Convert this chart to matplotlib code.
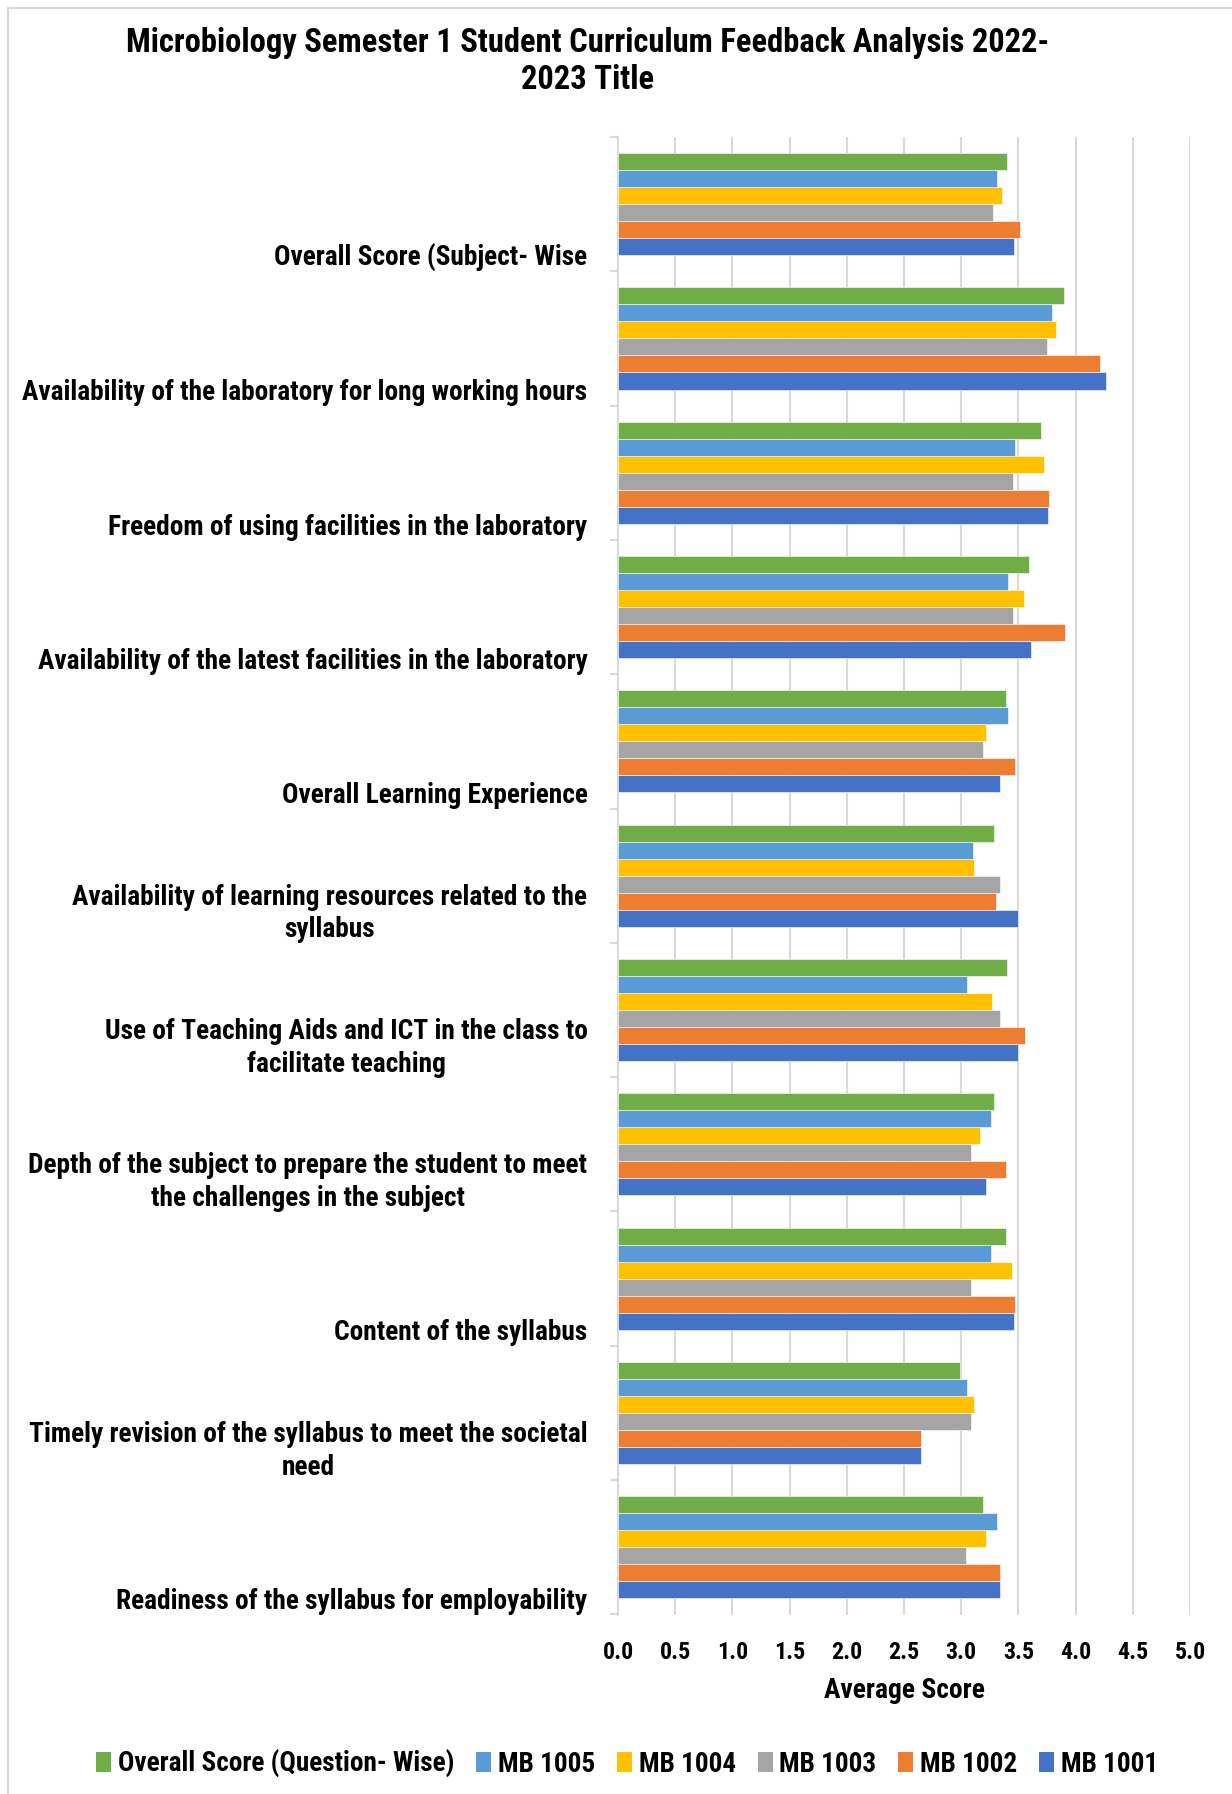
import matplotlib
matplotlib.use("Agg")
import matplotlib.pyplot as plt
import numpy as np
from matplotlib.patches import Patch
from matplotlib.lines import Line2D
from matplotlib import font_manager as fm
import os

categories = [
    "Overall Score (Subject- Wise",
    "Availability of the laboratory for long working hours",
    "Freedom of using facilities in the laboratory",
    "Availability of the latest facilities in the laboratory",
    "Overall Learning Experience",
    "Availability of learning resources related to the\nsyllabus",
    "Use of Teaching Aids and ICT in the class to\nfacilitate teaching",
    "Depth of the subject to prepare the student to meet\nthe challenges in the subject",
    "Content of the syllabus",
    "Timely revision of the syllabus to meet the societal\nneed",
    "Readiness of the syllabus for employability",
]

overall_q = [3.40, 3.90, 3.70, 3.59, 3.39, 3.29, 3.40, 3.29, 3.39, 2.99, 3.19]
mb1005 = [3.31, 3.79, 3.47, 3.41, 3.41, 3.10, 3.05, 3.26, 3.26, 3.05, 3.31]
mb1004 = [3.36, 3.83, 3.72, 3.55, 3.22, 3.11, 3.27, 3.16, 3.44, 3.11, 3.22]
mb1003 = [3.28, 3.75, 3.45, 3.45, 3.19, 3.34, 3.34, 3.09, 3.09, 3.09, 3.04]
mb1002 = [3.51, 4.21, 3.77, 3.91, 3.47, 3.30, 3.56, 3.39, 3.47, 2.65, 3.34]
mb1001 = [3.46, 4.27, 3.76, 3.61, 3.34, 3.50, 3.50, 3.22, 3.46, 2.65, 3.34]

series_names = ["MB 1001", "MB 1002", "MB 1003", "MB 1004", "MB 1005", "Overall Score (Question- Wise)"]
series_vals = [mb1001, mb1002, mb1003, mb1004, mb1005, overall_q]
series_colors = ["#4472C4", "#ED7D31", "#A5A5A5", "#FFC000", "#5B9BD5", "#70AD47"]

xticks = [0.0, 0.5, 1.0, 1.5, 2.0, 2.5, 3.0, 3.5, 4.0, 4.5, 5.0]

# ---- pick a condensed bold sans font if one is installed ----
prefs = ['liberationsansnarrow-bold.', 'arialnarrowbold', 'arial narrow bold', 'arialnb',
         'robotocondensed-bold.', 'notosans-condensedbold.', 'dejavusanscondensed-bold.',
         'opensans-condensedbold.', 'opensans_condensed-bold.', 'opensanscondensed-bold.']
files = [f.fname for f in fm.fontManager.ttflist]
chosen = None
for p in prefs:
    for fn in files:
        if p in os.path.basename(fn).lower():
            chosen = fn
            break
    if chosen:
        break
if chosen is None:
    for fn in files:
        b = os.path.basename(fn).lower()
        if ('condensed' in b or 'narrow' in b) and 'bold' in b and 'italic' not in b \
                and 'semi' not in b and 'extra' not in b and 'mono' not in b and 'serif' not in b:
            chosen = fn
            break

if chosen:
    base_fp = fm.FontProperties(fname=chosen)
else:
    base_fp = fm.FontProperties(family=['Liberation Sans', 'DejaVu Sans'], weight='bold')

W, H = 1232, 1794
fig = plt.figure(figsize=(W / 100, H / 100), dpi=100)
renderer = fig.canvas.get_renderer()


def fit(text, target_px, ref_size=20.0):
    fp = base_fp.copy()
    fp.set_size(ref_size)
    w, _, _ = renderer.get_text_width_height_descent(text, fp, ismath=False)
    return ref_size * target_px / w


def prop(size):
    fp = base_fp.copy()
    fp.set_size(size)
    return fp


lab_size = fit("Availability of the laboratory for long working hours", 566)
title_size = fit("Microbiology Semester 1 Student Curriculum Feedback Analysis 2022-", 924)
tick_size = fit("0.0", 31)
xl_size = fit("Average Score", 160)
leg_size = fit("Overall Score (Question- Wise)", 336)

ax = fig.add_axes([618 / W, 1 - 1615 / H, (1190 - 618) / W, (1615 - 137) / H])

n = len(categories)
ypos = np.arange(n)[::-1]  # first category at top
h = 0.1267
for j, (vals, col, name) in enumerate(zip(series_vals, series_colors, series_names)):
    ax.barh(ypos + (j - 2.5) * h, vals, height=h, color=col, label=name,
            edgecolor='white', linewidth=0.4, zorder=3)

ax.set_xlim(0, 5)
ax.set_ylim(-0.5, n - 0.5)
ax.set_xticks(xticks)
ax.set_xticklabels([f"{t:.1f}" for t in xticks], fontproperties=prop(tick_size))
ax.tick_params(axis='x', length=0, pad=19)
ax.grid(axis='x', color='#d9d9d9', linewidth=1.5, zorder=0)

ax.set_yticks(ypos - 0.505)
ax.set_yticklabels(categories, fontproperties=prop(lab_size), multialignment='center', linespacing=1.28)
for lbl in ax.get_yticklabels():
    lbl.set_va('bottom')
ax.tick_params(axis='y', length=0, pad=22)
ax.set_yticks(np.arange(-0.5, n, 1.0), minor=True)
ax.tick_params(axis='y', which='minor', length=6, width=1.5, color='#d9d9d9', direction='out')

for s in ['top', 'right', 'bottom']:
    ax.spines[s].set_visible(False)
ax.spines['left'].set_color('#d9d9d9')
ax.spines['left'].set_linewidth(1.5)

ax.set_xlabel("Average Score", fontproperties=prop(xl_size), labelpad=9)

fig.text(588 / W, 1 - 61.5 / H,
         "Microbiology Semester 1 Student Curriculum Feedback Analysis 2022-\n2023 Title",
         ha='center', va='center', fontproperties=prop(title_size), linespacing=1.2)

handles = [Patch(facecolor=c, edgecolor='none') for c in series_colors[::-1]]
labels = series_names[::-1]
fig.legend(handles, labels, loc='center', bbox_to_anchor=(627 / W, 1 - 1764 / H), ncol=6,
           frameon=False, prop=prop(leg_size), handlelength=0.55, handleheight=0.75,
           handletextpad=0.25, columnspacing=0.8)

# chart area border (left/top)
fig.add_artist(Line2D([8 / W, 8 / W], [0, 1 - 8 / H], transform=fig.transFigure, color='#d9d9d9', linewidth=1.5))
fig.add_artist(Line2D([8 / W, 1], [1 - 8 / H, 1 - 8 / H], transform=fig.transFigure, color='#d9d9d9', linewidth=1.5))

fig.savefig("out.png", dpi=100)
